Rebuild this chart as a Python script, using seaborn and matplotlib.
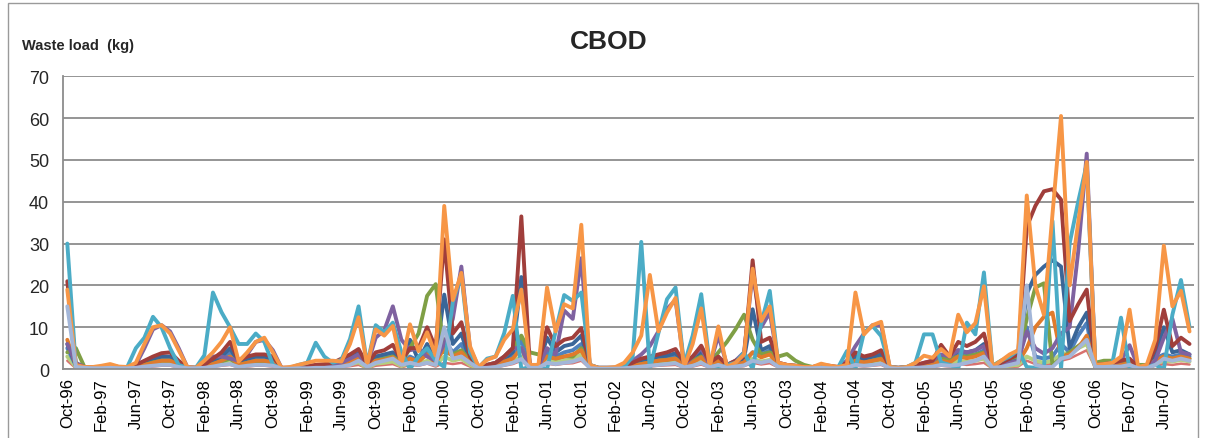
import numpy as np
import pandas as pd
import matplotlib
matplotlib.use("Agg")
import matplotlib.pyplot as plt
import seaborn as sns
from matplotlib.patches import Rectangle

# months Oct-96 .. Sep-07 (132 categories), labels every 4th month
tick_labels = ["Oct-96", "Feb-97", "Jun-97", "Oct-97", "Feb-98", "Jun-98", "Oct-98",
               "Feb-99", "Jun-99", "Oct-99", "Feb-00", "Jun-00", "Oct-00", "Feb-01",
               "Jun-01", "Oct-01", "Feb-02", "Jun-02", "Oct-02", "Feb-03", "Jun-03",
               "Oct-03", "Feb-04", "Jun-04", "Oct-04", "Feb-05", "Jun-05", "Oct-05",
               "Feb-06", "Jun-06", "Oct-06", "Feb-07", "Jun-07"]

light_red = [2, 0.2, 0.1, 0.1, 0.1, 0.2, 0.1, 0.1, 0.2, 0.4, 0.6, 0.8,
             0.8, 0.4, 0.1, 0.1, 0.2, 0.5, 0.8, 1, 0.4, 0.6, 0.8, 0.8,
             0.6, 0.1, 0.1, 0.1, 0.2, 0.2, 0.3, 0.3, 0.5, 0.7, 1, 0.2,
             0.8, 1, 1.2, 0.4, 1, 0.8, 1.3, 0.6, 1.5, 1.2, 1.5, 0.6,
             0.1, 0.3, 0.4, 0.8, 1.2, 2, 0.2, 0.3, 1.3, 1, 1.3, 1.4,
             2, 0.2, 0.1, 0.1, 0.1, 0.1, 0.3, 0.5, 0.6, 0.8, 0.9, 1,
             0.3, 0.6, 1.1, 0.3, 0.8, 0.3, 0.5, 0.7, 1.5, 1.1, 1.4, 0.4,
             0.3, 0.2, 0.1, 0.1, 0.2, 0.2, 0.1, 0.3, 0.8, 0.6, 0.8, 1,
             0.1, 0.1, 0.1, 0.2, 0.3, 0.4, 0.8, 0.6, 1.2, 1, 1.2, 1.5,
             0.1, 0.3, 0.5, 0.6, 2, 1.2, 1, 1.2, 2, 2.5, 3.5, 4.5,
             0.3, 0.3, 0.4, 0.4, 0.6, 0.1, 0.1, 0.8, 1.2, 1, 1.3, 1.1]

light_green = [3, 0.5, 0.3, 0.2, 0.2, 0.3, 0.2, 0.2, 0.4, 0.7, 1, 1.2,
               1.2, 0.6, 0.2, 0.2, 0.4, 0.8, 1.2, 1.6, 0.7, 1, 1.2, 1.2,
               1, 0.1, 0.1, 0.2, 0.3, 0.4, 0.4, 0.5, 0.8, 1.1, 1.6, 0.3,
               1.3, 1.5, 1.8, 0.7, 1.5, 1.2, 2, 1, 3, 2, 2.5, 1,
               0.2, 0.4, 0.6, 1.2, 1.8, 3, 0.3, 0.4, 2, 1.6, 2, 2.2,
               3.5, 0.3, 0.1, 0.1, 0.1, 0.2, 0.5, 0.8, 1, 1.3, 1.4, 1.6,
               0.5, 1, 1.8, 0.5, 1.3, 0.4, 0.7, 1, 2.5, 1.8, 2.2, 0.7,
               0.4, 0.3, 0.2, 0.2, 0.4, 0.3, 0.2, 0.5, 1.3, 1, 1.3, 1.6,
               0.2, 0.1, 0.2, 0.3, 0.5, 0.7, 1.3, 1, 2, 1.7, 2, 2.5,
               0.2, 0.5, 0.8, 1, 3, 2, 1.5, 2, 3.5, 4, 5, 6,
               0.4, 0.5, 0.6, 0.7, 1, 0.2, 0.2, 1.2, 2, 1.8, 2.2, 1.8]

blue = [5, 0.8, 0.3, 0.3, 0.3, 0.4, 0.3, 0.3, 0.6, 1.2, 2, 2.5,
        2.5, 1.2, 0.3, 0.3, 0.6, 1.6, 2.5, 4, 1.2, 2, 2.5, 2.5,
        2, 0.2, 0.2, 0.3, 0.5, 0.6, 0.8, 1, 1.6, 2.2, 3, 0.6,
        2.5, 3, 3.5, 1.2, 3, 2, 4.5, 1.8, 7, 4, 6, 1.8,
        0.3, 0.6, 1, 2, 3, 7, 0.4, 0.6, 4, 3, 4, 4.5,
        6, 0.6, 0.2, 0.2, 0.2, 0.3, 1, 1.6, 2, 2.5, 2.6, 3,
        0.8, 2, 3.5, 0.8, 2, 0.6, 1.2, 2, 4, 3.5, 4.5, 1,
        0.6, 0.5, 0.3, 0.3, 0.6, 0.5, 0.3, 1, 2.5, 2, 2.5, 3,
        0.3, 0.2, 0.3, 0.6, 1, 1.2, 2.5, 2, 3.5, 3.2, 3.5, 4.5,
        0.3, 1, 1.6, 2, 10, 3, 2.5, 3, 6, 4, 8, 11,
        0.6, 0.8, 1, 1.2, 1.6, 0.3, 0.3, 2.5, 3.5, 3, 3.5, 3]

dark_blue = [6, 1, 0.4, 0.3, 0.3, 0.5, 0.3, 0.3, 0.8, 1.5, 2.5, 3,
             3, 1.5, 0.3, 0.3, 0.8, 2, 3, 5, 1.5, 2.5, 3, 3,
             2.5, 0.2, 0.2, 0.4, 0.6, 0.8, 1, 1.2, 2, 2.8, 3.8, 0.8,
             3, 3.5, 4, 1.5, 7, 2, 6, 2, 17.8, 6, 8.5, 2,
             0.3, 0.8, 1.2, 2.5, 4, 22, 0.5, 0.8, 7.5, 4, 5.5, 6,
             8, 0.8, 0.3, 0.3, 0.3, 0.4, 1.2, 2, 2.5, 3, 3.2, 3.8,
             1, 2.5, 4.2, 1, 2.5, 0.8, 1.5, 2.5, 14.3, 4.5, 5.5, 1.2,
             0.8, 0.6, 0.4, 0.4, 0.8, 0.6, 0.4, 1.2, 3, 2.5, 3, 3.5,
             0.4, 0.3, 0.4, 0.8, 1.2, 1.5, 3, 2.5, 4.5, 4, 4.5, 6,
             0.4, 1.2, 2, 2.5, 18, 22.5, 24.5, 26, 24.5, 5, 10, 13.5,
             0.8, 1, 1.2, 1.5, 2, 0.4, 0.4, 3.5, 10, 4, 4.5, 3.5]

green = [4, 5, 0.5, 0.3, 0.3, 0.5, 0.3, 0.3, 0.6, 1, 1.6, 2,
         2, 1, 0.3, 0.3, 0.5, 1.2, 1.8, 2.5, 1, 1.5, 1.8, 1.8,
         1.5, 0.2, 0.2, 0.3, 0.4, 0.5, 0.6, 0.8, 1.2, 1.6, 2.5, 0.5,
         2, 2.5, 3, 1.5, 5, 8.5, 17.5, 20.3, 4, 3.5, 4.5, 2,
         0.3, 1, 1.5, 3, 5, 8, 4, 3.5, 3, 2.5, 3, 3,
         5, 0.5, 0.2, 0.2, 0.2, 0.3, 0.8, 1.2, 1.6, 2, 2.2, 2.5,
         1, 2, 3, 1.5, 4, 6.5, 9.5, 13, 7, 3.5, 4, 3,
         3.6, 2, 1, 0.5, 0.6, 0.4, 0.3, 0.8, 2, 1.5, 2, 2.5,
         0.3, 0.2, 0.3, 0.5, 1, 1.5, 2.5, 2.5, 3, 3, 3.5, 4,
         0.8, 2, 2.5, 3, 12, 19.5, 20.5, 1, 2.5, 4, 5.5, 7,
         1.5, 2, 2, 1.5, 2, 1, 1, 2, 3, 2.5, 3, 2.5]

dark_orange = [7, 1, 0.3, 0.3, 0.3, 0.5, 0.3, 0.3, 0.5, 1, 1.5, 2,
               2, 1, 0.3, 0.3, 0.5, 1.2, 2, 3, 1, 1.5, 2, 2,
               1.5, 0.2, 0.2, 0.3, 0.4, 0.5, 0.6, 0.8, 1.2, 1.8, 2.5, 0.5,
               2, 2.2, 2.8, 1, 2.5, 1.8, 3.5, 1.5, 5, 3, 4, 1.5,
               0.3, 0.6, 1, 1.8, 2.5, 5, 0.4, 0.5, 3, 2.5, 3, 3.5,
               4.5, 0.5, 0.2, 0.2, 0.2, 0.3, 0.8, 1.2, 1.6, 2, 2.2, 2.5,
               0.8, 1.6, 2.8, 0.8, 2, 0.6, 1, 1.6, 4, 2.8, 3.5, 1,
               0.6, 0.5, 0.3, 0.3, 0.6, 0.4, 0.3, 0.8, 2, 1.6, 2, 2.4,
               0.3, 0.2, 0.3, 0.5, 0.8, 1, 2, 1.6, 3, 2.6, 3, 3.8,
               0.3, 0.8, 1.2, 1.6, 5, 10, 12.5, 13.5, 3, 3.5, 5, 8,
               0.5, 0.6, 0.8, 1, 1.4, 0.3, 0.3, 2, 3, 2.5, 3, 2.5]

purple = [6, 1.5, 0.5, 0.3, 0.3, 0.5, 0.3, 0.3, 1, 5, 9.5, 10.5,
          9, 5, 0.5, 0.3, 1, 3, 3, 2.5, 2, 3.5, 6.5, 7,
          4.5, 0.3, 0.3, 0.5, 0.5, 0.8, 1, 1, 1.5, 2.5, 3.5, 0.8,
          7.5, 9.3, 15, 7, 4.5, 5, 3, 2, 6, 12, 24.5, 5,
          0.5, 1, 1.5, 3, 5, 5, 0.5, 0.5, 5, 3.5, 14, 12,
          26.5, 0.5, 0.3, 0.3, 0.3, 0.5, 2, 3.5, 5.5, 9, 14.4, 16.5,
          1, 3, 5, 1, 8, 1, 2, 4, 23, 10, 13.5, 1.5,
          1, 0.8, 0.5, 0.5, 0.8, 0.5, 0.5, 2, 5.5, 8.5, 10.5, 10.5,
          0.5, 0.3, 0.5, 0.8, 1.5, 2, 3.5, 3, 4.5, 4, 4.5, 5.5,
          0.5, 1, 1.5, 2, 9, 5, 3.7, 5, 8.5, 10, 28, 51.5,
          1, 1, 1.5, 2, 5.7, 0.5, 0.5, 2, 7.5, 12, 4, 3.5]

red = [21, 1, 0.5, 0.5, 0.5, 0.8, 0.5, 0.5, 1, 2, 3, 3.8,
       4, 2, 0.3, 0.3, 1, 2.5, 4, 6.5, 2, 3, 3.5, 3.5,
       3, 0.3, 0.3, 0.5, 0.8, 1, 1.2, 1.5, 2.5, 3.5, 4.8, 1,
       4, 4.5, 5.8, 2, 5, 5, 10, 5, 31, 8.5, 11.2, 3,
       0.3, 1, 1.5, 3, 5, 36.5, 0.5, 1, 10, 5.5, 7, 7.5,
       9.8, 1, 0.3, 0.3, 0.3, 0.5, 1.5, 2.5, 3, 3.5, 4, 4.8,
       1.5, 3, 5.6, 1.5, 3, 1, 2, 3, 26, 6.5, 7.5, 1.5,
       1, 0.8, 0.5, 0.5, 1, 0.8, 0.5, 1.5, 4, 3, 3.5, 4.5,
       0.5, 0.3, 0.5, 1, 1.5, 2, 5.8, 3, 6.5, 5.5, 6.5, 8.5,
       0.5, 1.5, 2.5, 3.5, 34, 39, 42.5, 43, 40.5, 11.5, 15.5, 19,
       1, 1.2, 1.5, 2, 2.5, 0.5, 0.5, 5, 14.2, 5.5, 7.5, 6]

cyan = [30, 0.5, 0.3, 0.3, 0.5, 0.8, 0.5, 0.5, 5, 7.5, 12.5, 10,
        5, 1, 0.3, 0.3, 3.3, 18.3, 13.6, 10, 6, 6, 8.5, 6.5,
        1, 0.2, 0.3, 1, 1.5, 6.3, 3, 1.5, 2.2, 7.2, 15, 1,
        10.5, 8.8, 11.1, 4, 0, 3, 5, 2, 0.5, 16, 22.5, 4,
        0.3, 2.5, 3, 8.6, 17.5, 0, 0.5, 0.5, 0, 9, 17.7, 16.3,
        18.3, 1, 0.3, 0.3, 0.3, 0.5, 3, 30.4, 0, 8.6, 16.7, 19.5,
        1, 8, 17.9, 1, 0, 1, 1.5, 4, 0, 11, 18.7, 1,
        0.5, 0.3, 0.3, 0.3, 0.5, 0.3, 0.5, 4.3, 0, 8.8, 10.3, 7.9,
        0.5, 0.3, 0.5, 1.5, 8.3, 8.3, 1.6, 1, 0, 11.1, 8.3, 23.1,
        0.5, 2, 3, 4.5, 0.5, 0.3, 0, 35.4, 0, 30, 40, 49,
        1, 1, 1.5, 12.3, 0, 0.3, 0.5, 1, 0, 13, 21.3, 10]

orange = [19, 1, 0.5, 0.5, 0.8, 1.2, 0.6, 0.5, 1.5, 6, 10, 10.5,
          8.5, 4.5, 0.5, 0.3, 2, 4, 6.5, 10, 1.8, 4, 6.5, 7.5,
          4, 0.3, 0.5, 1, 1.5, 2, 2, 2, 1.8, 6, 12.4, 1,
          9.5, 8, 10.3, 1, 10.7, 4.3, 8.8, 3.2, 39, 16.5, 23, 5.5,
          0.5, 2.2, 3, 7, 9.5, 19, 1, 1, 19.5, 9, 15.5, 14.5,
          34.5, 1, 0.3, 0.3, 0.5, 1.5, 4, 8, 22.5, 9, 13.5, 17,
          0.5, 6, 14.5, 0.5, 10.2, 0.5, 1.5, 3.5, 24, 11.5, 15, 1.5,
          1, 0.8, 0.5, 0.5, 1.3, 0.8, 0.5, 1, 18.3, 8.3, 10.5, 11.3,
          0.5, 0.3, 0.5, 1.5, 3.2, 2.7, 4.8, 3, 13, 8.8, 11, 19.8,
          0.5, 2, 3.5, 4.5, 41.5, 20, 13, 37, 60.5, 20, 35, 49.5,
          1, 1.2, 1.5, 3, 14.2, 0.5, 1, 7, 29.5, 15, 18.7, 9]

light_grey = [15, 0.5, 0.3, 0.2, 0.2, 0.3, 0.2, 0.2, 0.3, 0.6, 0.8, 1,
              1, 0.5, 0.2, 0.2, 0.3, 0.6, 1, 1.2, 0.5, 0.8, 1, 1,
              0.8, 0.1, 0.1, 0.2, 0.2, 0.3, 0.3, 0.4, 0.6, 1, 2, 0.5,
              1.5, 2, 2.5, 1, 1.5, 1, 1.5, 1, 10, 2.5, 3, 1.5,
              0.2, 0.3, 0.5, 1, 1.5, 2.4, 0.3, 0.3, 1.5, 1.2, 1.5, 1.8,
              2.5, 0.2, 0.1, 0.1, 0.1, 0.2, 0.4, 0.6, 0.8, 1, 1.2, 1.4,
              0.4, 0.8, 1.5, 0.4, 1, 0.3, 0.6, 0.9, 2, 1.5, 2, 0.5,
              0.4, 0.3, 0.2, 0.2, 0.3, 0.2, 0.2, 0.4, 1, 0.8, 1, 1.3,
              0.2, 0.1, 0.2, 0.3, 0.4, 0.6, 1, 0.8, 1, 1.5, 2, 3,
              0.3, 0.5, 1, 1.5, 20, 1, 0.5, 0.5, 2.5, 3, 5, 7,
              0.5, 0.5, 0.6, 0.6, 1, 0.2, 0.2, 1, 2.5, 2, 2.5, 2]

# draw order (last on top), colour, line width
series = [
    ("light_red", light_red, "#D8716E", 1.8),
    ("light_green", light_green, "#B5CF7F", 2.8),
    ("blue", blue, "#4F81BD", 2.8),
    ("dark_blue", dark_blue, "#3A6698", 2.8),
    ("green", green, "#7F9F45", 2.8),
    ("dark_orange", dark_orange, "#E07B2C", 2.8),
    ("purple", purple, "#7F62A0", 2.8),
    ("red", red, "#A03E3B", 2.8),
    ("cyan", cyan, "#4BACC6", 2.8),
    ("orange", orange, "#F79646", 2.8),
    ("light_grey", light_grey, "#A3B6D8", 2.8),
]

sns.set_style("white")
plt.rcParams["font.family"] = ["Liberation Sans", "DejaVu Sans"]

fig = plt.figure(figsize=(12.12, 4.39), dpi=100)
ax = fig.add_axes([0.052, 0.157, 0.933, 0.667])

for name, vals, col, lw in series:
    assert len(vals) == 132, name
    d = pd.DataFrame({"month": np.arange(len(vals)), "load": vals})
    sns.lineplot(data=d, x="month", y="load", color=col, linewidth=lw,
                 estimator=None, sort=False, ax=ax)

grid_col = "#8C8C8C"
ax.set_xlim(-0.5, 131.5)
ax.set_ylim(0, 70)
ax.set_yticks(range(0, 71, 10))
ax.yaxis.grid(True, color=grid_col, linewidth=1.3)
ax.set_axisbelow(True)

ax.set_xticks(range(0, 132, 4))
ax.set_xticklabels(tick_labels, rotation=90)
ax.set_xticks(np.arange(-0.5, 132, 4), minor=True)
ax.tick_params(axis="x", which="major", length=0, pad=6, labelsize=12, colors="black")
ax.tick_params(axis="x", which="minor", length=6, color=grid_col, width=1.3)
ax.tick_params(axis="y", length=6, color=grid_col, width=1.3, labelsize=13, pad=4)
ax.set_xlabel("")
ax.set_ylabel("")

for s in ["top", "right"]:
    ax.spines[s].set_visible(False)
for s in ["left", "bottom"]:
    ax.spines[s].set_color(grid_col)
    ax.spines[s].set_linewidth(1.3)

fig.text(0.502, 0.905, "CBOD", ha="center", va="center", fontsize=19, fontweight="bold")
fig.text(0.018, 0.895, "Waste load  (kg)", ha="left", va="center", fontsize=10.5, fontweight="bold")

fig.patches.append(Rectangle((8 / 1212, -0.05), 1198 / 1212 - 8 / 1212, 1.04,
                             transform=fig.transFigure, fill=False,
                             edgecolor="#9A9A9A", linewidth=1.0))

fig.savefig("out.png", dpi=100)
